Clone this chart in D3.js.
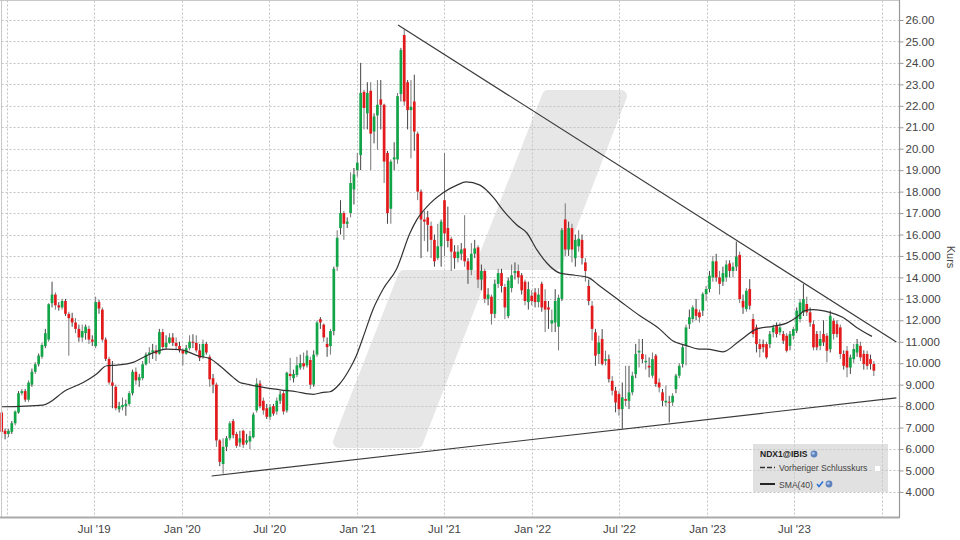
<!DOCTYPE html>
<html><head><meta charset="utf-8">
<script src="https://cdn.jsdelivr.net/npm/d3@7"></script>
<style>body{margin:0;background:#fff}svg{display:block}text{font-family:"Liberation Sans",Arial,sans-serif}</style>
</head><body>
<svg id="c" width="960" height="540"></svg>
<script>
// ---- DATA ----
const firstWeek = "2018-12-21"; // weekly candles, one per week
const opens = [
7.7,6.85,6.7,6.8,7.2,7.7,8.6,8.7,8.3,9.0,
9.6,9.95,10.3,10.8,11.1,12.8,13.2,12.7,12.6,12.9,
12.3,12.1,11.9,11.6,11.2,11.4,11.6,11.1,10.8,12.85,
12.5,11.1,10.2,9.1,8.9,7.85,7.95,8.0,8.1,8.6,
9.6,9.2,9.3,9.95,10.4,10.5,10.6,10.45,11.45,10.75,
10.95,11.2,10.95,10.8,10.6,10.45,10.7,11.0,10.95,10.6,
10.3,10.9,10.3,9.3,9.0,6.4,5.3,6.1,6.5,7.3,
6.7,6.3,6.85,6.3,6.35,6.55,7.8,9.05,8.25,7.9,
7.5,8.0,7.75,8.25,8.6,7.8,9.5,9.3,9.45,9.8,
10.0,9.9,10.15,9.0,10.4,12.05,11.8,10.9,10.8,11.5,
14.5,16.3,17.0,16.5,17.0,18.1,19.0,19.7,22.65,21.65,
22.7,20.8,21.55,22.3,22.05,19.8,17.2,19.5,19.5,22.55,
25.3,23.1,21.8,22.2,20.7,18.0,16.7,16.8,16.4,15.75,
14.9,15.45,17.6,16.3,15.8,15.2,14.9,15.1,15.35,14.75,
14.35,15.1,15.4,13.9,14.3,13.0,13.1,12.3,13.7,14.2,
13.55,12.2,13.5,14.2,14.3,14.1,13.8,12.85,13.15,13.3,
12.85,13.7,12.9,12.6,11.85,11.9,11.7,13.0,16.7,15.3,
16.3,14.9,15.45,15.75,14.7,13.6,12.68,11.44,10.43,11.13,
10.11,10.19,9.18,8.72,8.56,7.86,8.33,8.25,8.64,9.49,
10.5,10.43,10.04,9.88,9.42,10.35,9.1,8.64,8.17,8.2,
8.17,8.79,9.42,9.96,10.81,11.82,12.06,12.52,12.37,12.45,
13.22,13.46,14.0,14.75,14.0,13.8,14.0,14.65,14.3,14.5,
15.05,12.91,12.52,13.46,12.06,11.67,10.89,10.89,10.89,10.89,
11.44,11.75,11.44,11.36,11.28,10.81,11.28,11.51,12.06,12.37,
12.76,12.37,11.82,11.36,10.81,11.36,11.28,10.66,11.98,11.82,
11.67,10.43,10.58,9.8,10.19,10.5,10.81,10.43,10.43,10.19,
9.96];
const highs = [
7.8,6.95,6.95,7.3,7.8,8.7,8.8,8.8,9.2,9.75,
10.05,10.45,10.95,11.6,12.8,13.8,13.3,12.85,13.0,13.0,
12.4,12.35,12.1,11.8,11.8,11.8,11.75,11.3,13.1,12.95,
12.6,11.2,10.3,10.1,9.0,8.2,8.4,8.3,8.7,9.7,
9.8,9.5,10.1,10.5,10.75,10.9,10.85,11.6,11.6,11.3,
11.4,11.4,11.2,11.0,10.7,10.85,11.3,11.35,11.3,10.9,
11.1,11.0,10.4,9.5,9.1,6.45,6.5,6.6,7.3,7.4,
6.8,6.85,6.9,6.7,6.85,7.7,9.3,9.2,8.4,8.1,
8.1,8.1,8.4,8.7,8.7,9.6,10.25,9.7,10.3,10.4,
10.5,10.6,10.3,10.6,12.0,12.15,11.85,11.2,11.6,14.5,
16.2,17.6,17.1,16.8,18.9,19.1,19.8,24.0,22.75,23.1,
23.1,21.65,23.2,23.2,22.1,19.9,19.5,20.3,22.6,24.7,
25.55,23.2,23.2,23.45,20.8,18.1,17.1,17.1,16.6,16.0,
16.5,16.7,19.8,17.3,15.9,15.5,15.5,15.6,16.9,14.9,
15.6,15.75,15.5,14.6,14.4,13.5,13.2,13.9,14.4,14.4,
13.7,14.0,14.6,14.7,14.6,14.2,13.9,13.8,13.4,13.5,
13.5,13.8,13.45,12.9,12.5,13.45,13.2,16.3,17.45,16.6,
16.5,16.0,16.2,16.0,14.9,13.9,12.9,11.6,11.28,11.59,
10.58,10.4,9.4,8.9,8.7,9.1,9.88,9.88,9.6,10.9,
11.13,11.13,10.4,10.27,10.5,10.43,9.3,8.8,8.95,8.48,
8.6,9.5,10.0,10.9,11.8,12.5,12.7,13.0,12.5,13.3,
13.6,14.3,15.0,15.1,14.3,14.5,14.8,14.8,14.7,15.67,
15.2,13.2,13.5,13.92,12.3,11.8,11.13,11.1,11.0,11.5,
11.8,11.9,11.9,11.5,11.4,11.5,11.7,12.6,13.0,13.69,
13.1,12.6,12.0,11.5,11.5,12.0,11.4,12.45,12.1,12.0,
11.8,10.6,10.8,10.4,10.9,11.13,11.0,10.6,10.58,10.4,
10.1];
const lows = [
6.5,6.45,6.55,6.7,7.1,7.65,8.5,8.2,8.2,8.9,
9.5,9.85,10.2,10.7,11.0,12.6,12.5,12.45,12.5,12.2,
10.35,11.7,11.4,11.0,11.0,11.1,10.9,10.8,10.7,12.3,
11.0,10.1,9.0,7.9,7.8,7.7,7.8,7.55,8.0,8.5,
9.0,8.9,9.2,9.9,10.0,10.2,10.1,10.4,10.6,10.65,
10.9,10.8,10.65,10.5,9.9,10.4,10.6,10.7,10.5,10.1,
10.2,10.4,8.9,8.6,6.1,5.2,4.85,5.9,6.4,6.5,
6.05,6.1,6.05,6.2,6.0,6.5,7.7,7.9,7.6,7.4,
7.35,7.55,7.6,8.1,7.6,7.7,9.2,9.1,9.35,9.7,
9.7,9.8,8.8,8.9,10.3,11.6,11.0,10.3,10.4,11.3,
14.3,16.0,15.75,16.3,16.8,17.4,18.7,19.0,20.9,20.9,
19.0,20.25,19.95,20.9,18.4,16.5,16.5,19.0,19.3,22.2,
22.0,20.9,19.55,19.9,17.6,14.9,15.7,15.2,14.9,14.5,
14.8,14.5,15.0,15.4,14.3,14.4,14.7,14.8,14.5,13.7,
14.1,14.9,13.5,13.4,12.8,12.7,11.8,12.1,13.5,13.3,
12.05,12.1,13.3,13.9,13.7,13.2,12.7,12.5,12.7,12.6,
12.6,12.4,11.45,11.6,11.45,11.45,10.6,12.9,15.0,15.0,
14.7,14.5,15.2,14.6,13.8,12.7,11.05,9.88,9.96,9.9,
9.9,9.1,8.5,7.71,7.55,6.95,8.0,7.86,8.5,9.3,
9.8,10.0,9.7,9.34,9.3,8.9,8.64,8.0,8.0,7.24,
8.0,8.6,9.3,9.8,9.9,11.6,11.9,12.0,11.9,12.2,
12.9,13.3,13.8,13.8,13.2,13.6,13.8,14.0,14.0,14.3,
12.8,12.3,12.4,12.5,11.2,10.5,10.27,10.5,10.19,10.7,
11.2,11.2,11.3,10.9,10.5,10.6,11.1,11.4,11.9,12.2,
12.2,11.7,10.6,10.6,10.6,10.8,10.04,10.5,11.1,11.2,
10.2,9.7,9.34,9.5,10.0,10.3,10.1,9.7,9.7,9.7,
9.4];
const closes = [
6.8,6.7,6.85,7.2,7.75,8.6,8.7,8.3,9.1,9.6,
9.95,10.35,10.85,11.4,12.75,13.2,12.7,12.6,12.9,12.3,
12.1,11.9,11.6,11.2,11.5,11.7,11.1,11.0,12.85,12.55,
11.1,10.2,9.1,8.95,7.9,8.0,8.05,8.1,8.6,9.6,
9.2,9.35,9.95,10.4,10.5,10.6,10.45,11.45,10.75,10.95,
11.2,10.95,10.8,10.6,10.45,10.7,11.0,10.95,10.6,10.25,
10.9,10.5,9.25,9.0,6.4,5.4,6.1,6.5,7.2,6.65,
6.15,6.5,6.2,6.4,6.6,7.6,9.05,8.0,7.8,7.5,
7.95,7.65,8.25,8.55,7.75,9.55,9.4,9.5,9.9,10.0,
9.85,10.35,9.0,10.4,11.9,11.9,11.2,10.75,11.5,14.4,
15.85,17.0,16.5,16.6,18.4,18.8,19.35,22.6,21.9,22.6,
20.7,21.5,22.05,22.05,19.4,17.0,19.4,19.6,22.45,24.6,
22.2,21.8,21.95,20.8,18.0,16.7,16.6,16.45,15.75,14.75,
15.45,16.6,16.05,15.7,15.2,14.9,15.2,15.3,14.75,14.35,
15.1,15.35,13.9,14.3,13.0,13.2,12.3,13.7,14.2,13.6,
12.6,13.85,14.1,14.3,14.0,13.4,12.9,13.45,12.9,12.85,
13.2,12.6,12.5,12.5,12.0,12.9,13.05,16.2,15.3,16.3,
15.3,15.75,15.8,14.9,14.3,12.9,11.6,10.35,10.97,9.96,
10.19,9.26,8.72,8.17,7.86,8.41,8.25,8.64,9.42,10.43,
10.58,10.19,10.11,9.8,10.19,9.03,8.87,8.25,8.25,8.17,
8.48,9.42,9.88,10.74,11.67,12.14,12.6,12.21,12.14,13.22,
13.46,14.08,14.75,14.0,13.7,14.2,14.6,14.3,14.5,14.97,
12.99,12.6,13.38,12.68,11.36,10.89,10.66,10.74,10.27,11.36,
11.67,11.36,11.67,11.05,10.58,11.36,11.59,12.45,12.83,12.99,
12.37,11.9,10.74,10.74,11.13,10.97,10.58,12.21,11.36,11.36,
10.43,9.88,9.8,10.27,10.66,10.89,10.27,9.96,9.88,9.96,
9.65];
const smaDates = ["2018-12-21","2019-03-17","2019-05-05","2019-06-09","2019-07-07","2019-07-28","2019-08-18","2019-09-21","2019-10-19","2019-11-30",
"2019-12-28","2020-02-08","2020-02-28","2020-03-20","2020-04-17","2020-05-01","2020-05-15","2020-06-19","2020-07-24","2020-08-27",
"2020-10-01","2020-10-22","2020-11-05","2020-11-25","2020-12-16","2020-12-30","2021-01-13","2021-02-03","2021-02-24","2021-03-24",
"2021-04-21","2021-05-05","2021-06-02","2021-06-29","2021-07-28","2021-08-16","2021-09-14","2021-10-11","2021-11-01","2021-11-30",
"2021-12-21","2022-01-11","2022-02-01","2022-02-28","2022-03-31","2022-04-27","2022-05-22","2022-07-03","2022-08-13","2022-09-24",
"2022-10-21","2022-11-19","2022-12-16","2022-12-31","2023-02-03","2023-03-10","2023-04-15","2023-05-18","2023-06-16","2023-07-07",
"2023-07-24","2023-08-10","2023-09-14","2023-10-11","2023-11-09","2023-12-11"];
const smaValues = [7.97,8.05,8.75,9.1,9.5,9.88,9.91,10.04,10.35,10.66,
10.63,10.32,10.22,9.88,9.34,9.1,9.03,8.87,8.76,8.67,
8.55,8.64,8.67,9.03,9.73,10.35,11.2,12.52,13.46,14.39,
16.07,16.68,17.45,17.95,18.3,18.45,18.3,17.75,17.14,16.44,
16.07,15.28,14.66,14.2,14.1,14.0,13.6,12.9,12.22,11.59,
11.05,10.82,10.66,10.66,10.53,11.05,11.6,11.72,11.87,12.14,
12.45,12.5,12.37,12.14,11.67,11.25];
const trendUpperDates = ["2021-03-27","2024-01-31"];
const trendUpperValues = [25.77, 10.99];
const trendLowerDates = ["2020-03-03","2024-01-31"];
const trendLowerValues = [4.74, 8.38];
const yTickValues = [26,25,24,23,22,21,20,19,18,17,16,15,14,13,12,11,10,9,8,7,6,5,4];
const yTickLabels = ["26.00","25.00","24.00","23.00","22.00","21.00","20.00","19.000","18.000","17.000","16.000","15.000","14.000","13.000","12.000","11.000","10.000","9.000","8.000","7.000","6.000","5.000","4.000"];
const xTickDates = ["2019-01-01","2019-07-01","2020-01-01","2020-07-01","2021-01-01","2021-07-01","2022-01-01","2022-07-01","2023-01-01","2023-07-01","2024-01-01"];
const xTickLabels = ["","Jul '19","Jan '20","Jul '20","Jan '21","Jul '21","Jan '22","Jul '22","Jan '23","Jul '23",""];
const legendTitle = "NDX1@IBIS";
const legendItems = ["Vorheriger Schlusskurs","SMA(40)"];
const axisTitle = "Kurs";

// ---- CHART ----
const parse = d3.timeParse("%Y-%m-%d");
const svg = d3.select("#c");
const plotL = 1.5, plotR = 899.5, plotT = 0.5, plotB = 517;
const x = d3.scaleTime().domain([parse("2019-01-01"), parse("2024-01-01")]).range([7, 882]);
const y = d3.scaleLinear().domain([4, 26]).range([491.9, 20]);

// watermark
const wm = svg.append("g").attr("fill", "#e7e7e7").attr("stroke", "#e7e7e7")
  .attr("stroke-width", 12).attr("stroke-linejoin", "round");
wm.append("path").attr("d", "M548,96 L621,96 L556,264 L482,264 Z");
wm.append("path").attr("d", "M404,276 L481,276 L417,442 L339,442 Z");

// grid
const grid = svg.append("g").attr("stroke", "#c4c4c4").attr("stroke-dasharray", "2,2").attr("stroke-width", 1);
yTickValues.forEach(v => {
  const yy = Math.round(y(v)) + 0.5;
  grid.append("line").attr("x1", plotL).attr("x2", plotR).attr("y1", yy).attr("y2", yy);
});
xTickDates.forEach(d => {
  const xx = Math.round(x(parse(d))) + 0.5;
  grid.append("line").attr("x1", xx).attr("x2", xx).attr("y1", plotT).attr("y2", plotB);
});

// candles
const start = parse(firstWeek);
const candles = closes.map((c, i) => ({
  date: d3.timeDay.offset(start, 7 * i), o: opens[i], h: highs[i], l: lows[i], c
}));
const cg = svg.append("g");
const bw = 2.7;
cg.selectAll("line.w").data(candles).join("line").attr("class", "w")
  .attr("x1", d => x(d.date)).attr("x2", d => x(d.date))
  .attr("y1", d => y(d.h)).attr("y2", d => y(d.l))
  .attr("stroke", (d, i) => i % 2 ? "#444" : "#777").attr("stroke-width", 1);
cg.selectAll("rect").data(candles).join("rect")
  .attr("x", d => x(d.date) - bw / 2).attr("width", bw)
  .attr("y", d => y(Math.max(d.o, d.c)))
  .attr("height", d => Math.max(1, Math.abs(y(d.o) - y(d.c))))
  .attr("fill", d => d.c >= d.o ? "#12a548" : "#e31a1c");

// SMA
const sma = smaDates.map((d, i) => ({ date: parse(d), v: smaValues[i] }));
svg.append("path").datum(sma)
  .attr("d", d3.line().x(d => x(d.date)).y(d => y(d.v)).curve(d3.curveMonotoneX))
  .attr("fill", "none").attr("stroke", "#333").attr("stroke-width", 1.2);

// trend lines
[[trendUpperDates, trendUpperValues], [trendLowerDates, trendLowerValues]].forEach(([ds, vs]) => {
  svg.append("line")
    .attr("x1", x(parse(ds[0]))).attr("y1", y(vs[0]))
    .attr("x2", x(parse(ds[1]))).attr("y2", y(vs[1]))
    .attr("stroke", "#3a3a3a").attr("stroke-width", 1.2);
});

// frame
svg.append("line").attr("x1", plotL).attr("x2", plotL).attr("y1", 0).attr("y2", plotB).attr("stroke", "#c8c8c8");
svg.append("line").attr("x1", 0).attr("x2", plotR).attr("y1", plotT).attr("y2", plotT).attr("stroke", "#c8c8c8");
svg.append("line").attr("x1", plotR).attr("x2", plotR).attr("y1", 0).attr("y2", plotB + 1).attr("stroke", "#999").attr("stroke-width", 1.2);
svg.append("line").attr("x1", 0).attr("x2", plotR).attr("y1", plotB + 0.5).attr("y2", plotB + 0.5).attr("stroke", "#aaa").attr("stroke-width", 2);

// y axis
const yAxis = d3.axisRight(y).tickValues(yTickValues).tickSize(4).tickPadding(2)
  .tickFormat((d, i) => yTickLabels[i]);
const ya = svg.append("g").attr("transform", `translate(${plotR},0)`).call(yAxis);
ya.select(".domain").remove();
ya.selectAll(".tick line").attr("stroke", "#999");
ya.selectAll(".tick text").attr("fill", "#444").style("font-size", "11.5px").style("font-family", '"Liberation Sans",Arial,sans-serif');

// x axis
const xAxis = d3.axisBottom(x).tickValues(xTickDates.map(parse)).tickSize(0).tickPadding(8)
  .tickFormat((d, i) => xTickLabels[i]);
const xa = svg.append("g").attr("transform", `translate(0,${plotB})`).call(xAxis);
xa.select(".domain").remove();
xa.selectAll(".tick text").attr("fill", "#444").style("font-size", "11.5px").style("font-family", '"Liberation Sans",Arial,sans-serif');

// axis title
svg.append("text").attr("transform", "translate(947,257) rotate(90)")
  .attr("text-anchor", "middle").attr("fill", "#444").style("font-size", "11px").text(axisTitle);

// legend
const lg = svg.append("g");
lg.append("rect").attr("x", 753).attr("y", 444).attr("width", 135).attr("height", 48)
  .attr("fill", "#c9c9c9").attr("fill-opacity", 0.55);
lg.append("text").attr("x", 760).attr("y", 457).attr("fill", "#222")
  .style("font-size", "8.5px").style("font-weight", "bold").text(legendTitle);
function globe(cx, cy) {
  lg.append("circle").attr("cx", cx).attr("cy", cy).attr("r", 3.4).attr("fill", "#5d82bd");
  lg.append("circle").attr("cx", cx - 0.8).attr("cy", cy - 0.8).attr("r", 1.5).attr("fill", "#a9c1e6");
}
globe(814, 454);
lg.append("line").attr("x1", 760).attr("x2", 775).attr("y1", 467.5).attr("y2", 467.5)
  .attr("stroke", "#333").attr("stroke-width", 1.5).attr("stroke-dasharray", "5,2");
lg.append("text").attr("x", 779).attr("y", 471).attr("fill", "#444").style("font-size", "8.6px").text(legendItems[0]);
lg.append("rect").attr("x", 874.5).attr("y", 465.5).attr("width", 6).attr("height", 6)
  .attr("fill", "#fff").attr("stroke", "#e0e0e0");
lg.append("line").attr("x1", 760).attr("x2", 775).attr("y1", 484).attr("y2", 484)
  .attr("stroke", "#111").attr("stroke-width", 1.8);
lg.append("text").attr("x", 779).attr("y", 487.5).attr("fill", "#444").style("font-size", "8.6px").text(legendItems[1]);
lg.append("path").attr("d", "M817,484 L819,486.5 L823,481.5").attr("fill", "none")
  .attr("stroke", "#2d6fd2").attr("stroke-width", 1.5);
globe(829, 484);
</script>
</body></html>
